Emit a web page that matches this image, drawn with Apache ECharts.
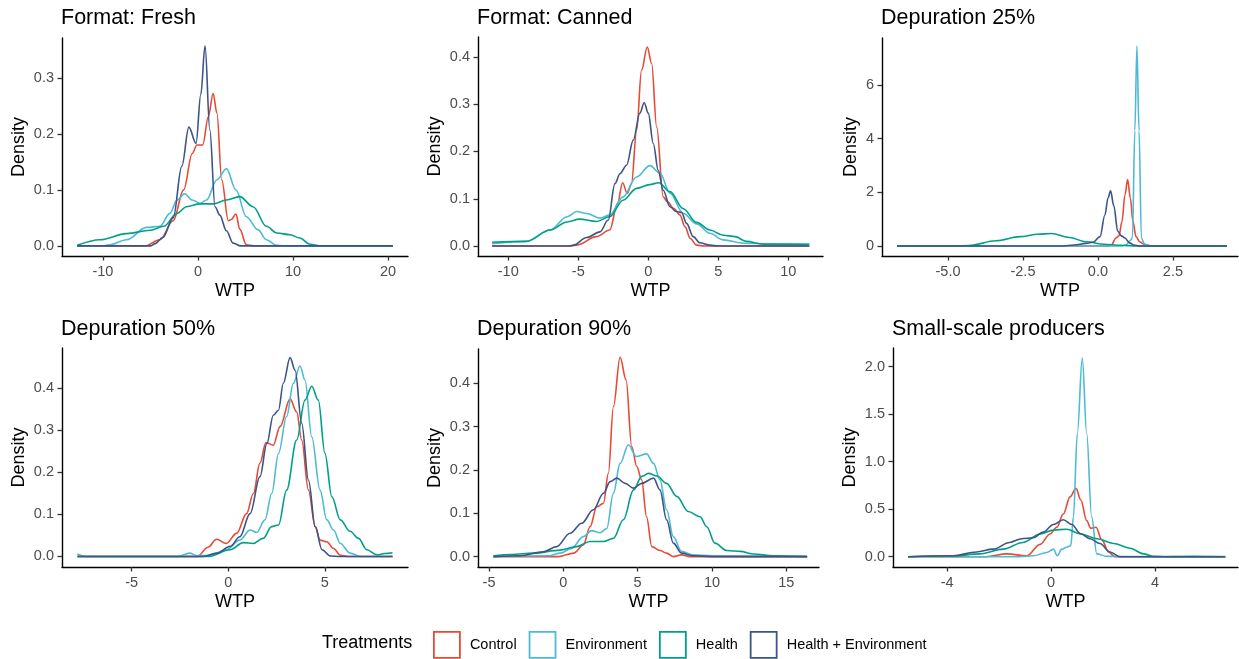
<!DOCTYPE html>
<html>
<head>
<meta charset="utf-8">
<title>WTP density by treatment</title>
<script src="https://cdn.jsdelivr.net/npm/echarts@6/dist/echarts.min.js"></script>
<style>
  html, body { margin: 0; padding: 0; background: #fff; }
  #chart { width: 1239px; height: 659px; }
</style>
</head>
<body>
<div id="chart"></div>
<script>
const treatments = ['Control', 'Environment', 'Health', 'Health + Environment']
const colors = ['#E64B35', '#4DBBD5', '#00A087', '#3C5488']
const panelTitles = ['Format: Fresh', 'Format: Canned', 'Depuration 25%', 'Depuration 50%', 'Depuration 90%', 'Small-scale producers']

// density curves, [WTP, density]
const freshControl = [[-12.7,0],[-5.6,0],[-4.0,0.011],[-2.6,0.045],[-1.5,0.100],[-0.6,0.165],[-0.1,0.180],[0.5,0.180],[1.1,0.231],[1.6,0.272],[2.0,0.237],[2.5,0.118],[3.2,0.045],[3.5,0.047],[4.0,0.057],[4.4,0.030],[5.1,0.002],[6,0],[20.5,0]]
const freshEnvironment = [[-12.7,0],[-10,0],[-9.3,0.002],[-7.5,0.011],[-5.4,0.033],[-4.0,0.035],[-2.95,0.058],[-2.2,0.082],[-1.4,0.093],[-0.6,0.082],[0.25,0.076],[0.9,0.082],[2.0,0.118],[3.0,0.138],[4.0,0.100],[5.1,0.052],[6.3,0.029],[7.2,0.011],[8.3,0.001],[9,0],[20.5,0]]
const freshHealth = [[-12.7,0.001],[-10.3,0.011],[-7.5,0.022],[-5.0,0.028],[-3.6,0.035],[-2.2,0.058],[-1.2,0.070],[0.2,0.075],[1.6,0.075],[3.0,0.082],[4.4,0.088],[5.8,0.070],[7.2,0.035],[8.3,0.023],[9.7,0.020],[10.7,0.014],[11.8,0.003],[12.8,0],[20.5,0]]
const freshBoth = [[-12.7,0],[-5.0,0],[-4.5,0.004],[-3.7,0.015],[-2.6,0.05],[-1.7,0.142],[-0.95,0.212],[-0.2,0.183],[0.3,0.27],[0.75,0.357],[1.25,0.207],[1.8,0.07],[2.3,0.055],[3.0,0.027],[3.7,0.005],[4.5,0],[20.5,0]]

const cannedControl = [[-11.15,0],[-5.5,0],[-5.1,0.002],[-3.7,0.02],[-2.75,0.034],[-2.2,0.09],[-1.83,0.134],[-1.5,0.111],[-1.2,0.132],[-0.83,0.245],[-0.48,0.372],[-0.07,0.421],[0.24,0.386],[0.6,0.252],[1.07,0.104],[1.36,0.094],[1.8,0.08],[2.26,0.066],[2.62,0.041],[3.0,0.016],[3.45,0.002],[4,0],[11.5,0]]
const cannedEnvironment = [[-11.15,0.005],[-8.7,0.01],[-7.0,0.034],[-5.8,0.062],[-5.1,0.073],[-4.4,0.069],[-3.45,0.059],[-2.75,0.066],[-1.8,0.104],[-0.83,0.146],[0.12,0.17],[0.84,0.154],[1.55,0.112],[2.5,0.069],[3.45,0.047],[4.4,0.027],[5.35,0.013],[6.8,0.006],[9.2,0.004],[11.5,0.004]]
const cannedHealth = [[-11.15,0.008],[-8.7,0.01],[-7.0,0.034],[-5.8,0.051],[-4.9,0.057],[-3.7,0.052],[-2.75,0.062],[-1.8,0.097],[-0.83,0.122],[0.1,0.130],[0.75,0.134],[1.55,0.115],[2.5,0.079],[3.45,0.05],[4.4,0.034],[5.35,0.023],[6.2,0.02],[7.0,0.01],[8.2,0.004],[11.5,0.003]]
const cannedBoth = [[-11.15,0],[-5.6,0],[-5.35,0.002],[-4.4,0.018],[-3.45,0.03],[-2.86,0.055],[-2.38,0.132],[-2.02,0.153],[-1.55,0.171],[-1.07,0.224],[-0.6,0.281],[-0.29,0.303],[0.0,0.281],[0.36,0.217],[0.71,0.16],[1.07,0.118],[1.55,0.083],[2.02,0.073],[2.38,0.071],[2.74,0.048],[3.21,0.02],[3.69,0.007],[4.4,0.002],[5,0],[11.5,0]]

const dep25Control = [[-6.7,0],[0.35,0],[0.45,0.05],[0.6,0.3],[0.7,0.38],[0.8,0.9],[0.9,1.9],[0.99,2.48],[1.08,1.8],[1.17,0.9],[1.27,0.35],[1.4,0.15],[1.55,0.06],[1.8,0],[4.3,0]]
const dep25Environment = [[-6.7,0],[0.8,0],[0.95,0.05],[1.07,0.2],[1.15,0.3],[1.23,4.3],[1.3,7.45],[1.37,4.3],[1.45,0.3],[1.55,0.08],[1.7,0],[4.3,0]]
const dep25Health = [[-6.7,0],[-4.8,0],[-4.3,0.02],[-3.4,0.2],[-2.6,0.35],[-2.0,0.44],[-1.55,0.47],[-0.95,0.32],[-0.4,0.16],[0.2,0.07],[0.75,0.03],[1.3,0],[4.3,0]]
const dep25Both = [[-6.7,0],[-1.2,0],[-0.8,0.04],[-0.4,0.1],[-0.15,0.15],[0.07,0.35],[0.23,1.15],[0.34,1.8],[0.42,2.06],[0.53,1.5],[0.66,0.55],[0.78,0.38],[0.9,0.3],[1.05,0.12],[1.2,0.04],[1.4,0],[4.3,0]]

const dep50Control = [[-7.8,0],[-1.6,0],[-1.05,0.022],[-0.6,0.041],[-0.1,0.031],[0.43,0.055],[0.95,0.102],[1.3,0.15],[1.64,0.222],[1.95,0.271],[2.33,0.265],[2.68,0.309],[3.2,0.375],[3.54,0.344],[3.8,0.277],[4.15,0.158],[4.5,0.071],[4.75,0.039],[5.1,0.035],[5.45,0.019],[5.8,0.003],[6.2,0],[8.5,0]]
const dep50Environment = [[-7.8,0.006],[-7.4,0],[-2.6,0],[-2.0,0.008],[-1.6,0.002],[-1.0,0.002],[-0.1,0.016],[0.6,0.039],[1.13,0.063],[1.47,0.057],[1.9,0.087],[2.25,0.15],[2.6,0.245],[3.02,0.333],[3.37,0.412],[3.71,0.453],[3.97,0.42],[4.32,0.285],[4.75,0.158],[5.1,0.087],[5.45,0.063],[5.8,0.031],[6.3,0.008],[6.85,0],[8.5,0]]
const dep50Health = [[-7.8,0],[-1.0,0],[0.1,0.016],[0.78,0.033],[1.3,0.031],[1.8,0.043],[2.25,0.071],[2.6,0.075],[3.02,0.158],[3.54,0.277],[3.97,0.372],[4.32,0.405],[4.66,0.372],[5.0,0.246],[5.36,0.142],[5.8,0.087],[6.3,0.06],[6.74,0.043],[7.17,0.016],[7.7,0.004],[8.1,0.007],[8.5,0.009]]
const dep50Both = [[-7.8,0],[-1.3,0],[-0.6,0.008],[0.1,0.024],[0.6,0.047],[1.13,0.102],[1.64,0.19],[2.0,0.269],[2.33,0.336],[2.6,0.348],[2.85,0.412],[3.2,0.473],[3.46,0.443],[3.8,0.317],[4.15,0.182],[4.5,0.071],[4.85,0.016],[5.3,0.001],[5.8,0],[8.5,0]]

const dep90Control = [[-4.7,0],[-0.3,0],[0.7,0.008],[1.35,0.027],[1.8,0.069],[2.25,0.115],[2.7,0.123],[3.03,0.192],[3.37,0.346],[3.82,0.46],[4.22,0.408],[4.6,0.254],[4.94,0.208],[5.27,0.177],[5.6,0.092],[5.95,0.023],[6.5,0.014],[6.95,0.008],[7.4,0],[7.95,0.004],[8.5,0],[16.4,0]]
const dep90Environment = [[-4.7,0],[-1,0.002],[-0.2,0.008],[0.55,0.019],[1.35,0.046],[1.9,0.06],[2.47,0.055],[2.92,0.065],[3.37,0.146],[3.82,0.215],[4.38,0.258],[4.9,0.231],[5.6,0.237],[6.07,0.215],[6.5,0.177],[6.95,0.108],[7.4,0.046],[7.95,0.012],[8.75,0.004],[10,0.002],[16.4,0]]
const dep90Health = [[-4.7,0.002],[-3.5,0.005],[-2.0,0.008],[-0.2,0.015],[0.9,0.023],[1.8,0.035],[2.7,0.035],[3.37,0.042],[4.04,0.085],[4.72,0.154],[5.28,0.185],[5.73,0.192],[6.3,0.186],[6.95,0.169],[7.63,0.139],[8.4,0.104],[9.2,0.092],[9.65,0.069],[10.2,0.031],[11.0,0.014],[11.9,0.012],[12.8,0.006],[14.1,0.002],[16.4,0]]
const dep90Both = [[-4.7,0],[-2.9,0.002],[-1.35,0.011],[-0.45,0.023],[0.45,0.054],[1.24,0.077],[2.02,0.108],[2.7,0.146],[3.15,0.173],[3.6,0.181],[4.16,0.169],[4.72,0.158],[5.28,0.169],[6.07,0.181],[6.5,0.154],[6.95,0.085],[7.4,0.031],[7.95,0.008],[8.75,0.002],[10,0],[16.4,0]]

const smallControl = [[-5.5,0],[-2.5,0],[-1.7,0.03],[-0.93,0.01],[-0.42,0.13],[-0.04,0.24],[0.22,0.31],[0.47,0.45],[0.73,0.63],[0.96,0.72],[1.14,0.6],[1.37,0.38],[1.53,0.3],[1.73,0.31],[1.95,0.18],[2.21,0.05],[2.45,0],[6.7,0]]
const smallEnvironment = [[-5.5,0],[-1.2,0],[-0.68,0.01],[-0.17,0.045],[0.09,0.08],[0.24,0.01],[0.41,0.08],[0.6,0.1],[0.76,0.12],[0.86,0.42],[1.01,1.3],[1.2,2.09],[1.37,1.3],[1.56,0.42],[1.76,0.03],[2.14,0.004],[4,0.002],[5.5,0.008],[6.7,0.002]]
const smallHealth = [[-5.5,0],[-3.76,0.01],[-2.74,0.03],[-1.84,0.08],[-1.08,0.15],[-0.42,0.24],[0.09,0.28],[0.6,0.29],[1.12,0.24],[1.76,0.19],[2.4,0.14],[3.04,0.09],[3.55,0.03],[3.95,0.004],[4.5,0],[6.7,0]]
const smallBoth = [[-5.5,0],[-3.76,0.01],[-2.87,0.05],[-2.23,0.08],[-1.59,0.15],[-1.14,0.19],[-0.68,0.2],[-0.3,0.26],[0.09,0.34],[0.47,0.39],[0.8,0.34],[1.12,0.245],[1.5,0.19],[1.88,0.14],[2.27,0.05],[2.65,0],[6.7,0]]

// tick values for each panel
const xTicks = [[-10, 0, 10, 20], [-10, -5, 0, 5, 10], [-5, -2.5, 0, 2.5], [-5, 0, 5], [-5, 0, 5, 10, 15], [-4, 0, 4]]
const yTicks = [[0, 0.1, 0.2, 0.3], [0, 0.1, 0.2, 0.3, 0.4], [0, 2, 4, 6], [0, 0.1, 0.2, 0.3, 0.4], [0, 0.1, 0.2, 0.3, 0.4], [0, 0.5, 1, 1.5, 2]]
const xDigits = [0, 0, 1, 0, 0, 0]
const yDigits = [1, 1, 0, 1, 1, 1]

const panelData = [
  [freshControl, freshEnvironment, freshHealth, freshBoth],
  [cannedControl, cannedEnvironment, cannedHealth, cannedBoth],
  [dep25Control, dep25Environment, dep25Health, dep25Both],
  [dep50Control, dep50Environment, dep50Health, dep50Both],
  [dep90Control, dep90Environment, dep90Health, dep90Both],
  [smallControl, smallEnvironment, smallHealth, smallBoth]
]

// layout of each panel (pixels) and axis ranges incl. ggplot's 5% padding
const panels = [
  { left: 62, top: 38, width: 346, height: 218, x: [-14.3, 22.1], y: [-0.018, 0.371], gap: 34 },
  { left: 478, top: 37, width: 345, height: 219, x: [-12.16, 12.48], y: [-0.021, 0.442], gap: 34 },
  { left: 882, top: 38, width: 356, height: 218, x: [-7.2, 4.67], y: [-0.37, 7.75], gap: 22 },
  { left: 62, top: 348, width: 346, height: 219, x: [-8.6, 9.3], y: [-0.025, 0.496], gap: 34 },
  { left: 478, top: 349, width: 341, height: 218, x: [-5.74, 17.2], y: [-0.024, 0.479], gap: 34 },
  { left: 893, top: 348, width: 345, height: 219, x: [-6.08, 7.19], y: [-0.108, 2.197], gap: 34 }
]

const font = 'Liberation Sans, Arial, Helvetica, sans-serif'
const chart = echarts.init(document.getElementById('chart'))

const grid = [], xAxis = [], yAxis = [], title = [], series = []

panels.forEach((p, i) => {
  grid.push({ left: p.left, top: p.top, width: p.width, height: p.height, containLabel: false })
  title.push({
    text: panelTitles[i],
    left: p.left - 1,
    top: p.top < 100 ? 7 : 318,
    padding: 0,
    textStyle: { fontFamily: font, fontSize: 21.5, fontWeight: 'normal', color: '#000' }
  })
  xAxis.push({
    type: 'value', gridIndex: i, min: p.x[0], max: p.x[1],
    name: 'WTP', nameLocation: 'middle', nameGap: 26,
    nameTextStyle: { fontFamily: font, fontSize: 18, color: '#000' },
    axisLine: { onZero: false, lineStyle: { color: '#000', width: 1.4 } },
    axisTick: { length: 4.5, customValues: xTicks[i], lineStyle: { color: '#333', width: 1.3 } },
    axisLabel: {
      customValues: xTicks[i], margin: 8,
      fontFamily: font, fontSize: 14.5, color: '#4d4d4d',
      formatter: v => v.toFixed(xDigits[i])
    },
    splitLine: { show: false }
  })
  yAxis.push({
    type: 'value', gridIndex: i, min: p.y[0], max: p.y[1],
    name: 'Density', nameLocation: 'middle', nameGap: p.gap,
    nameTextStyle: { fontFamily: font, fontSize: 18, color: '#000' },
    axisLine: { show: true, onZero: false, lineStyle: { color: '#000', width: 1.4 } },
    axisTick: { show: true, length: 4.5, customValues: yTicks[i], lineStyle: { color: '#333', width: 1.3 } },
    axisLabel: {
      customValues: yTicks[i], margin: 8,
      fontFamily: font, fontSize: 14.5, color: '#4d4d4d',
      formatter: v => v.toFixed(yDigits[i])
    },
    splitLine: { show: false }
  })
  panelData[i].forEach((d, k) => {
    series.push({
      name: treatments[k], type: 'line', xAxisIndex: i, yAxisIndex: i,
      data: d, showSymbol: false, smooth: 0.35, smoothMonotone: 'x',
      lineStyle: { color: colors[k], width: 1.6 },
      itemStyle: { color: colors[k] },
      silent: true
    })
  })
})

title.push({
  text: 'Treatments', left: 322, top: 634, padding: 0,
  textStyle: { fontFamily: font, fontSize: 18, fontWeight: 'normal', color: '#000' }
})

chart.setOption({
  animation: false,
  backgroundColor: '#fff',
  title, grid, xAxis, yAxis, series,
  legend: {
    left: 433, top: 631, padding: 0, itemWidth: 26, itemHeight: 26, itemGap: 12,
    selectedMode: false,
    textStyle: { fontFamily: font, fontSize: 14.5, color: '#000', padding: [0, 0, 0, 5] },
    data: treatments.map((t, k) => ({
      name: t, icon: 'rect',
      itemStyle: { color: '#fff', borderColor: colors[k], borderWidth: 1.8 }
    }))
  }
})
</script>
</body>
</html>
